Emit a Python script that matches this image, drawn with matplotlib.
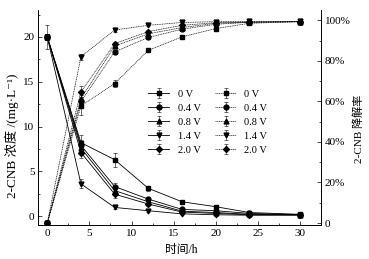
"""2-CNB concentration and degradation vs time at several voltages"""

import matplotlib
matplotlib.use('Agg')
import matplotlib.pyplot as plt
from matplotlib.ticker import MultipleLocator, FuncFormatter

plt.rcParams['font.family'] = ['Liberation Serif', 'Noto Sans CJK SC', 'DejaVu Sans']
plt.rcParams['font.size'] = 8

times = [0, 4, 8, 12, 16, 20, 24, 30]
voltages = ['0 V', '0.4 V', '0.8 V', '1.4 V', '2.0 V']
markers = ['s', 'o', '^', 'v', 'D']

conc = [
    [20, 8.2, 6.3, 3.1, 1.6, 1.05, 0.4, 0.2],
    [20, 7.9, 3.3, 1.9, 0.75, 0.6, 0.3, 0.15],
    [20, 7.6, 2.85, 1.6, 0.55, 0.4, 0.2, 0.15],
    [20, 3.6, 0.97, 0.6, 0.25, 0.15, 0.1, 0.1],
    [20, 7.1, 2.45, 1.35, 0.45, 0.3, 0.15, 0.15],
]
conc_err = [
    [1.3, 0.9, 0.8, 0.3, 0.15, 0.1, 0.05, 0.05],
    [0.3, 0.6, 0.4, 0.2, 0.1, 0.1, 0.05, 0.05],
    [0.3, 0.6, 0.4, 0.2, 0.1, 0.1, 0.05, 0.05],
    [0.3, 0.5, 0.2, 0.1, 0.1, 0.05, 0.05, 0.05],
    [0.3, 0.6, 0.4, 0.2, 0.1, 0.1, 0.05, 0.05],
]

degr = [
    [0, 57.8, 68.8, 85.2, 91.8, 95.9, 98.5, 99.3],
    [0, 60.0, 84.4, 91.5, 95.6, 98.0, 99.0, 99.3],
    [0, 61.4, 87.3, 93.3, 96.4, 98.5, 99.0, 99.3],
    [0, 82.0, 95.2, 97.5, 98.9, 99.3, 99.4, 99.4],
    [0, 64.7, 88.5, 94.4, 97.5, 98.8, 99.1, 99.3],
]
degr_err = [
    [0.5, 4.5, 1.5, 1.0, 0.8, 0.5, 0.3, 0.2],
    [0.5, 3.0, 1.0, 0.8, 0.5, 0.3, 0.2, 0.2],
    [0.5, 3.0, 1.0, 0.8, 0.5, 0.3, 0.2, 0.2],
    [0.5, 1.5, 0.8, 0.5, 0.3, 0.2, 0.2, 0.2],
    [0.5, 3.0, 1.0, 0.8, 0.5, 0.3, 0.2, 0.2],
]

fig = plt.figure(figsize=(3.69, 2.59), dpi=100)
ax = fig.add_axes([0.103, 0.131, 0.767, 0.830])
ax2 = ax.twinx()

handles_c = []
handles_d = []
for i in range(len(voltages)):
    size = 3.5 if markers[i] != 'D' else 3.0
    h = ax.errorbar(times, conc[i], yerr=conc_err[i], color='black', lw=0.6,
                    marker=markers[i], ms=size,
                    elinewidth=0.4, capsize=1.5, capthick=0.4)
    handles_c.append(h)
    h2 = ax2.errorbar(times, degr[i], yerr=degr_err[i], color='black', lw=0.5,
                      ls=(0, (1.5, 1)), marker=markers[i], ms=size,
                      elinewidth=0.4, capsize=1.5, capthick=0.4)
    handles_d.append(h2)

ax.set_xlim(-1.1, 32.5)
ax.set_ylim(-1, 23)
ax2.set_ylim(-1, 105)

ax.xaxis.set_major_locator(MultipleLocator(5))
ax.xaxis.set_minor_locator(MultipleLocator(2.5))
ax.yaxis.set_major_locator(MultipleLocator(5))
ax.yaxis.set_minor_locator(MultipleLocator(2.5))
ax2.yaxis.set_major_locator(MultipleLocator(20))
ax2.yaxis.set_minor_locator(MultipleLocator(10))
ax2.yaxis.set_major_formatter(FuncFormatter(lambda v, p: '0' if v == 0 else f'{v:.0f}%'))

for a in (ax, ax2):
    a.spines['top'].set_visible(False)
    for s in a.spines.values():
        s.set_linewidth(0.6)
    a.tick_params(which='both', direction='in', width=0.5, labelsize=8, pad=2.5)
    a.tick_params(which='major', length=3)
    a.tick_params(which='minor', length=1.5)
ax.tick_params(axis='y', which='both', right=False)

ax.set_xlabel('时间/h', fontsize=8.5)
ax.set_ylabel('2-CNB 浓度 /(mg·L⁻¹)', fontsize=9.5)
ax2.set_ylabel('2-CNB 降解率', fontsize=8)
ax.xaxis.set_label_coords(0.505, -0.09)
ax.yaxis.set_label_coords(-0.066, 0.415)
ax2.yaxis.set_label_coords(1.115, 0.45)

leg = ax.legend(handles_c + handles_d, voltages + voltages, ncol=2,
                loc='upper left', bbox_to_anchor=(0.39, 0.63),
                frameon=False, fontsize=7.5, handlelength=2.0,
                handletextpad=0.8, columnspacing=1.4, labelspacing=0.45,
                borderpad=0.0, borderaxespad=0.0)

fig.savefig('out.png', dpi=100)
